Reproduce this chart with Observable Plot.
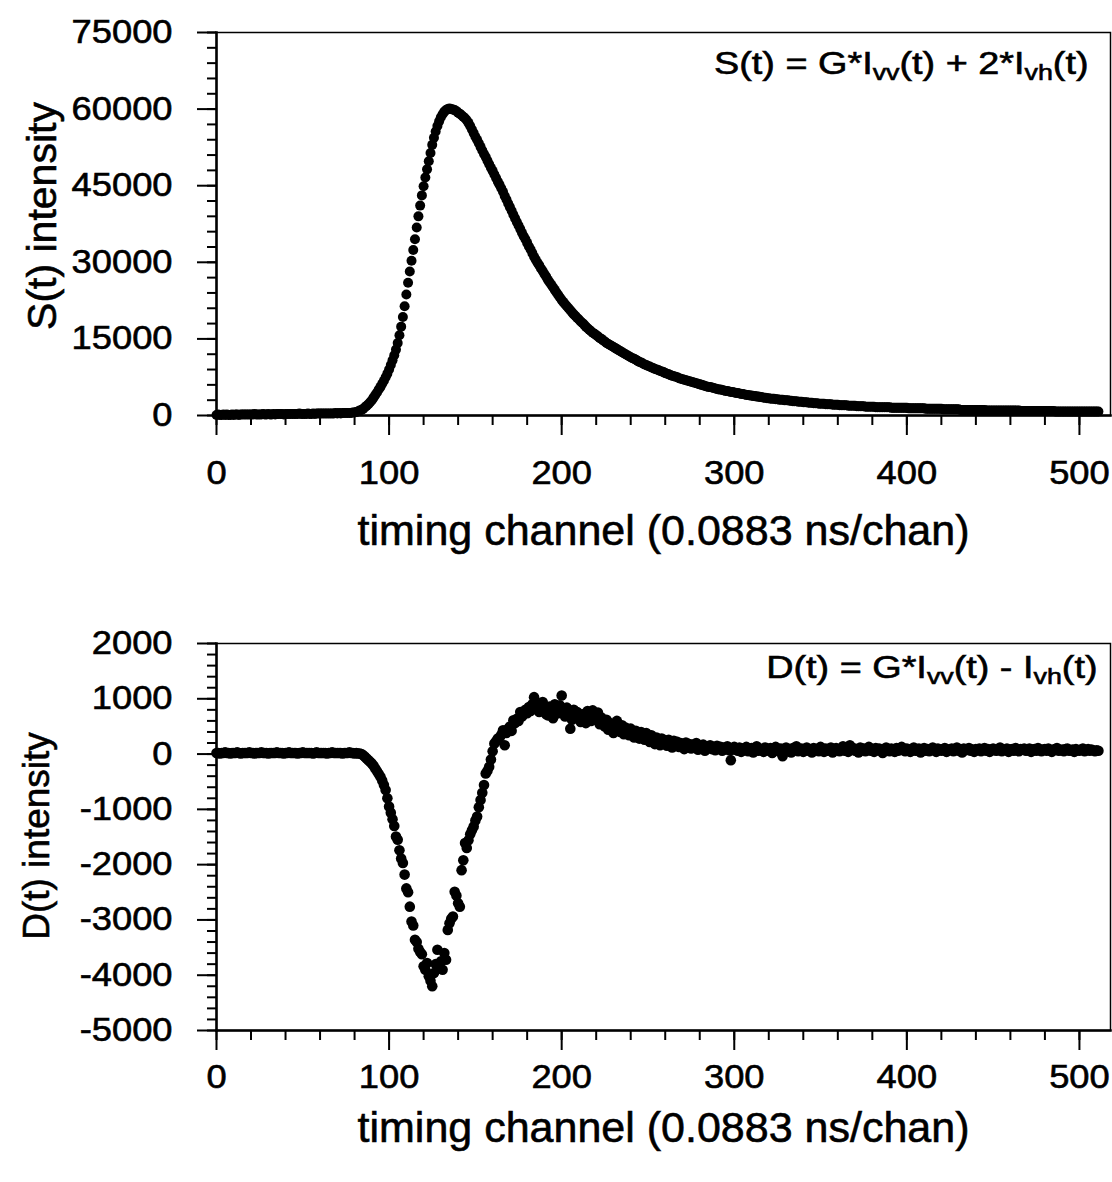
<!DOCTYPE html>
<html>
<head>
<meta charset="utf-8">
<script src="https://cdn.jsdelivr.net/npm/d3@7"></script>
<script src="https://cdn.jsdelivr.net/npm/@observablehq/plot@0.6"></script>
<style>
  html, body { margin: 0; padding: 0; background: #fff; }
  #chart { width: 1112px; height: 1182px; position: relative; background: #fff; }
  #chart svg { display: block; }
  #chart svg text { stroke: black; stroke-width: 0.6px; }
</style>
</head>
<body>
<div id="chart"></div>
<script>
// ---------- DATA ----------
// Channel axis ticks
const xTicks = [0, 100, 200, 300, 400, 500];
const xDomain = [0, 518];
// S(t) axis ticks
const sTicks = [0, 15000, 30000, 45000, 60000, 75000];
const sDomain = [0, 75000];
// D(t) axis ticks
const dTicks = [-5000, -4000, -3000, -2000, -1000, 0, 1000, 2000];
const dDomain = [-5000, 2000];

const xTitle = "timing channel (0.0883 ns/chan)";
const sTitle = "S(t) intensity";
const dTitle = "D(t) intensity";
// formula pieces: [text, isSubscript]
const sFormulaParts = [["S(t) = G*I", false], ["vv", true], ["(t) + 2*I", false], ["vh", true], ["(t)", false]];
const dFormulaParts = [["D(t) = G*I", false], ["vv", true], ["(t) - I", false], ["vh", true], ["(t)", false]];

// S(t) intensity, in hundreds of counts, channels 0..511 (one row = 10 channels)
const sIntensityHundreds = [
  1,2,1,1,2,1,2,1,1,2,
  1,2,2,1,2,2,2,2,2,2,
  2,2,3,2,2,2,2,3,2,2,
  3,2,2,3,2,3,3,3,3,2,
  3,3,3,3,3,3,3,3,4,3,
  3,3,3,4,3,3,4,3,4,4,
  4,4,4,4,4,4,4,4,4,5,
  4,5,4,5,5,5,5,5,5,6,
  6,7,8,10,11,13,16,19,22,26,
  30,35,40,45,51,56,62,68,75,82,
  90,99,108,118,129,142,157,174,193,214,
  237,260,282,303,324,345,368,390,411,431,
  449,466,482,498,514,530,544,556,567,576,
  584,590,595,598,600,601,600,599,598,596,
  593,591,588,585,582,578,573,567,560,553,
  546,540,533,526,519,512,506,499,492,485,
  479,472,465,458,452,445,438,430,423,415,
  408,401,393,386,379,372,365,358,351,345,
  338,331,325,318,311,305,299,294,288,283,
  277,272,266,261,256,251,246,241,236,231,
  226,222,218,214,210,206,202,198,195,191,
  188,184,181,178,174,171,168,165,162,160,
  157,155,152,150,147,145,142,140,138,136,
  134,132,130,128,126,124,122,120,118,116,
  114,112,111,109,107,105,104,102,100,99,
  97,96,94,93,91,90,89,87,86,85,
  83,82,81,79,78,77,76,75,73,72,
  71,70,69,68,67,66,65,64,63,62,
  61,60,59,58,57,56,56,55,54,53,
  52,51,51,50,49,48,48,47,46,46,
  45,44,44,43,42,42,41,40,40,39,
  39,38,38,37,37,36,36,35,35,34,
  34,33,33,33,32,32,31,31,31,30,
  30,30,29,29,28,28,28,27,27,27,
  26,26,26,25,25,25,24,24,24,23,
  23,23,23,22,22,22,22,21,21,21,
  21,20,20,20,20,20,19,19,19,19,
  19,18,18,18,18,18,17,17,17,17,
  17,17,16,16,16,16,16,16,16,16,
  16,15,15,15,15,15,15,15,15,15,
  15,14,14,14,14,14,14,14,14,14,
  14,13,13,13,13,13,13,13,13,13,
  13,12,12,12,12,12,12,12,12,12,
  12,11,11,11,11,11,11,11,11,11,
  11,11,11,11,11,11,10,10,10,10,
  10,10,10,10,10,10,10,10,10,10,
  10,10,10,10,10,10,9,9,9,9,
  9,9,9,9,9,9,9,9,9,9,
  9,9,9,9,9,9,8,8,8,8,
  8,8,8,8,8,8,8,8,8,8,
  8,8,8,8,8,8,8,8,8,8,
  8,8
];

// D(t) intensity, counts, channels 0..511 (one row = 10 channels)
const dIntensity = [
  20,20,10,20,20,30,20,20,10,20,
  20,20,30,20,10,20,20,20,20,30,
  20,20,10,20,20,20,30,20,20,20,
  10,20,20,20,20,30,20,20,20,10,
  20,20,30,20,20,20,20,10,20,20,
  30,20,20,20,20,20,10,20,30,20,
  20,20,20,20,10,20,20,30,20,20,
  20,20,20,10,20,20,20,30,20,20,
  10,20,10,10,0,-20,-50,-80,-110,-140,
  -170,-210,-260,-310,-360,-410,-480,-560,-650,-800,
  -950,-1060,-1180,-1300,-1490,-1550,-1740,-1890,-1970,-2180,
  -2430,-2500,-2760,-3030,-3100,-3360,-3400,-3520,-3580,-3620,
  -3840,-3900,-3780,-4020,-4100,-4200,-3960,-3800,-3540,-3860,
  -3750,-3900,-3600,-3720,-3180,-3060,-2980,-2940,-2490,-2560,
  -2700,-2760,-2100,-1920,-1610,-1700,-1560,-1450,-1380,-1310,
  -1200,-1130,-960,-830,-700,-560,-350,-300,-230,-100,
  50,190,230,280,300,350,430,160,380,460,
  500,420,610,560,640,600,760,680,720,800,
  740,850,780,900,1030,820,900,760,850,940,
  800,720,700,860,780,650,900,820,740,880,
  1060,760,680,840,700,460,620,800,700,760,
  650,580,720,640,560,780,680,600,790,700,
  620,750,540,660,580,500,620,440,560,480,
  380,520,600,460,400,520,360,480,420,340,
  460,380,300,420,360,280,400,320,260,380,
  300,220,340,260,180,300,240,160,280,200,
  250,150,260,190,120,240,180,220,130,200,
  160,90,210,150,180,100,170,130,200,80,
  150,120,170,60,140,110,160,90,130,70,
  150,100,130,60,120,90,140,70,-110,80,
  130,90,60,120,40,100,70,130,50,80,
  110,30,90,140,60,100,70,40,120,80,
  60,110,20,90,130,70,50,100,-40,80,
  120,60,90,30,110,70,140,50,80,100,
  40,90,120,60,80,30,110,70,90,50,
  130,80,40,100,60,90,120,30,70,110,
  80,50,100,140,60,90,40,160,80,110,
  60,90,30,120,70,100,50,80,130,60,
  90,40,110,70,100,60,20,90,120,70,
  50,100,80,40,110,60,90,130,70,50,
  100,80,40,90,120,60,70,100,30,80,
  110,60,90,50,80,120,70,40,100,80,
  60,90,110,40,80,70,100,50,90,120,
  60,80,30,100,70,90,110,60,80,40,
  90,70,100,50,80,110,60,90,40,80,
  100,70,60,90,120,50,80,70,100,40,
  80,90,60,110,70,50,90,80,100,60,
  70,100,40,80,90,60,110,70,50,80,
  90,60,100,70,40,80,90,110,60,70,
  80,50,90,100,60,70,80,40,90,70,
  60,80,100,50,70,90,60,80,70,50,
  70,60
];

// ---------- BUILD ----------
const FONT = "'Liberation Sans', Arial, Helvetica, sans-serif";
const sData = sIntensityHundreds.map((v, i) => ({ch: i, s: v * 100}));
const dData = dIntensity.map((v, i) => ({ch: i, d: v}));
const xMinor = d3.range(xDomain[0], xDomain[1] + 1, 20);
const sMinor = d3.range(sDomain[0], sDomain[1] + 1, 3000);
const dMinor = d3.range(dDomain[0], dDomain[1] + 1, 200);
const fmt = d => String(d);
const blank = () => "";
const formulaText = parts => parts.map(p => p[0]).join("");

function panel({height, marginTop, marginBottom, yDomain, yTicks, yMinor, data, yField, r,
                xTickPadding, xTitleDy, yTitle, yTitleSize, yTitleDx, yTitleDy,
                formula, formulaDx, formulaDy, formulaClass}) {
  return Plot.plot({
    width: 1112, height,
    marginLeft: 216, marginRight: 2, marginTop, marginBottom,
    x: {domain: xDomain},
    y: {domain: yDomain},
    style: {fontFamily: FONT, color: "black", background: "white", overflow: "visible"},
    marks: [
      Plot.frame({stroke: "black", strokeWidth: 1.5}),
      Plot.frame({anchor: "left", stroke: "black", strokeWidth: 2.5}),
      Plot.frame({anchor: "bottom", stroke: "black", strokeWidth: 2.5}),
      Plot.axisY(yMinor, {anchor: "left", tickSize: 9, tickFormat: blank, strokeWidth: 2, label: null}),
      Plot.axisY(yTicks, {anchor: "left", tickSize: 19, tickPadding: 25, fontSize: 33, strokeWidth: 2, tickFormat: fmt, label: null}),
      Plot.axisX(xMinor, {anchor: "bottom", tickSize: 10, tickFormat: blank, strokeWidth: 2, label: null}),
      Plot.axisX(xTicks, {anchor: "bottom", tickSize: 20, tickPadding: xTickPadding, fontSize: 33, strokeWidth: 2, tickFormat: fmt, label: null}),
      Plot.dot(data, {x: "ch", y: yField, r, fill: "black", stroke: "none"}),
      Plot.text([xTitle], {text: d => d, frameAnchor: "bottom", textAnchor: "middle", lineAnchor: "top", dy: xTitleDy, fontSize: 43, fill: "black"}),
      Plot.text([yTitle], {text: d => d, frameAnchor: "left", textAnchor: "middle", lineAnchor: "middle", rotate: -90, dx: yTitleDx, dy: yTitleDy, fontSize: yTitleSize, fill: "black"}),
      Plot.text([formulaText(formula)], {text: d => d, frameAnchor: "top-right", textAnchor: "end", lineAnchor: "top", dx: formulaDx, dy: formulaDy, fontSize: 31, fill: "black", className: formulaClass})
    ]
  });
}

const chart = document.getElementById("chart");

const topPlot = panel({
  height: 590, marginTop: 32, marginBottom: 175,
  yDomain: sDomain, yTicks: sTicks, yMinor: sMinor, data: sData, yField: "s", r: 5,
  xTickPadding: 25, xTitleDy: 99,
  yTitle: sTitle, yTitleSize: 41, yTitleDx: -174, yTitleDy: -8,
  formula: sFormulaParts, formulaDx: -22, formulaDy: 19, formulaClass: "formula-s"
});
const bottomPlot = panel({
  height: 592, marginTop: 53, marginBottom: 152,
  yDomain: dDomain, yTicks: dTicks, yMinor: dMinor, data: dData, yField: "d", r: 5.3,
  xTickPadding: 14, xTitleDy: 81,
  yTitle: dTitle, yTitleSize: 37, yTitleDx: -179, yTitleDy: -1,
  formula: dFormulaParts, formulaDx: -13, formulaDy: 12, formulaClass: "formula-d"
});
chart.appendChild(topPlot);
chart.appendChild(bottomPlot);

// subscripts in formula labels
function applyFormula(svg, cls, parts) {
  const t = svg.querySelector("." + cls + " text") || svg.querySelector("g." + cls + " text");
  if (!t) return null;
  while (t.firstChild) t.removeChild(t.firstChild);
  const ns = "http://www.w3.org/2000/svg";
  let shifted = false;
  parts.forEach(([txt, sub]) => {
    const ts = document.createElementNS(ns, "tspan");
    ts.textContent = txt;
    if (sub) { ts.setAttribute("font-size", "22"); ts.setAttribute("dy", "6"); shifted = true; }
    else if (shifted) { ts.setAttribute("dy", "-6"); shifted = false; }
    t.appendChild(ts);
  });
  return t;
}

// horizontal stretch about the text anchor
function stretch(el, s) {
  const bb = el.getBBox();
  const anchor = getComputedStyle(el).textAnchor;
  const a = anchor === "end" ? bb.x + bb.width : anchor === "middle" ? bb.x + bb.width / 2 : bb.x;
  const prev = el.getAttribute("transform") || "";
  el.setAttribute("transform", `${prev} translate(${a},0) scale(${s},1) translate(${-a},0)`);
}

[[topPlot, "formula-s", sFormulaParts], [bottomPlot, "formula-d", dFormulaParts]].forEach(([svg, cls, parts]) => {
  const t = applyFormula(svg, cls, parts);
  if (t) stretch(t, 1.22);
  svg.querySelectorAll("text").forEach(el => {
    if (/^[-\u2212]?\d+$/.test(el.textContent.trim())) stretch(el, 1.1);
  });
});
</script>
</body>
</html>
